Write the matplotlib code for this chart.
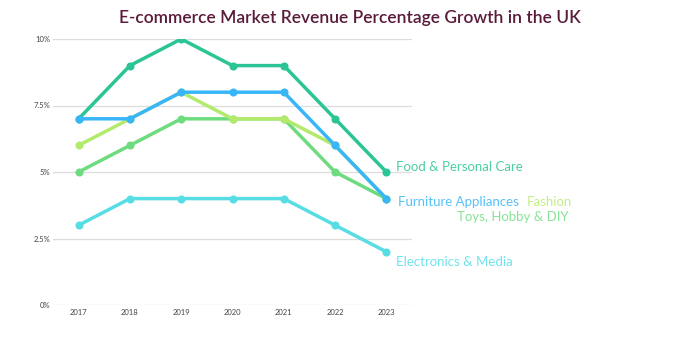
import matplotlib
matplotlib.use("Agg")
from matplotlib import pyplot as plt

years = ["2017", "2018", "2019", "2020", "2021", "2022", "2023"]
electronics = [3, 4, 4, 4, 4, 3, 2]
toys = [5, 6, 7, 7, 7, 5, 4]
fashion = [6, 7, 8, 7, 7, 6, 4]
food = [7, 9, 10, 9, 9, 7, 5]
furniture = [7, 7, 8, 8, 8, 6, 4]

# name, values, line colour, label colour, label position (axes fraction)
series = [
    ("Electronics & Media", electronics, "#58dde4", "#6fe3ea", (0.955, 0.16)),
    ("Toys, Hobby & DIY", toys, "#6edc7e", "#86e495", (1.125, 0.33)),
    ("Fashion", fashion, "#b3ea6c", "#c2ee85", (1.32, 0.387)),
    ("Food & Personal Care", food, "#2bc495", "#4ccda6", (0.955, 0.52)),
    ("Furniture Appliances", furniture, "#38b6f8", "#55c1f8", (0.96, 0.387)),
]

plt.rcParams['font.family'] = ['Lato', 'DejaVu Sans']
fig = plt.figure(figsize=(7, 3.5), dpi=100)
ax = fig.add_axes([53/700, 1 - 305/350, (412-53)/700, (305-39)/350])

x = list(range(len(years)))
for name, vals, col, lcol, pos in series:
    ax.plot(x, vals, color=col, linewidth=2.5, marker="o", markersize=4.8, zorder=3)
    ax.text(pos[0], pos[1], name, transform=ax.transAxes, color=lcol,
            fontsize=9.5, va="center", ha="left", clip_on=False)

ax.set_xlim(-0.5, 6.5)
ax.set_ylim(0, 10)
ax.set_yticks([0, 2.5, 5, 7.5, 10])
ax.set_yticklabels(["0%", "2.5%", "5%", "7.5%", "10%"])
ax.set_xticks(x)
ax.set_xticklabels(years)
ax.tick_params(axis="both", length=0, labelsize=5.5, colors="#444444")
ax.tick_params(axis="y", pad=2)
ax.tick_params(axis="x", pad=3)
ax.grid(axis="y", color="#dddddd", linewidth=0.9)
ax.set_axisbelow(True)
for s in ax.spines.values():
    s.set_visible(False)

fig.text(0.5, 1 - 18/350, "E-commerce Market Revenue Percentage Growth in the UK",
         ha="center", va="center", fontsize=12.5, color="#5a1a3a", fontweight="semibold")

fig.savefig("out.png", dpi=100)
